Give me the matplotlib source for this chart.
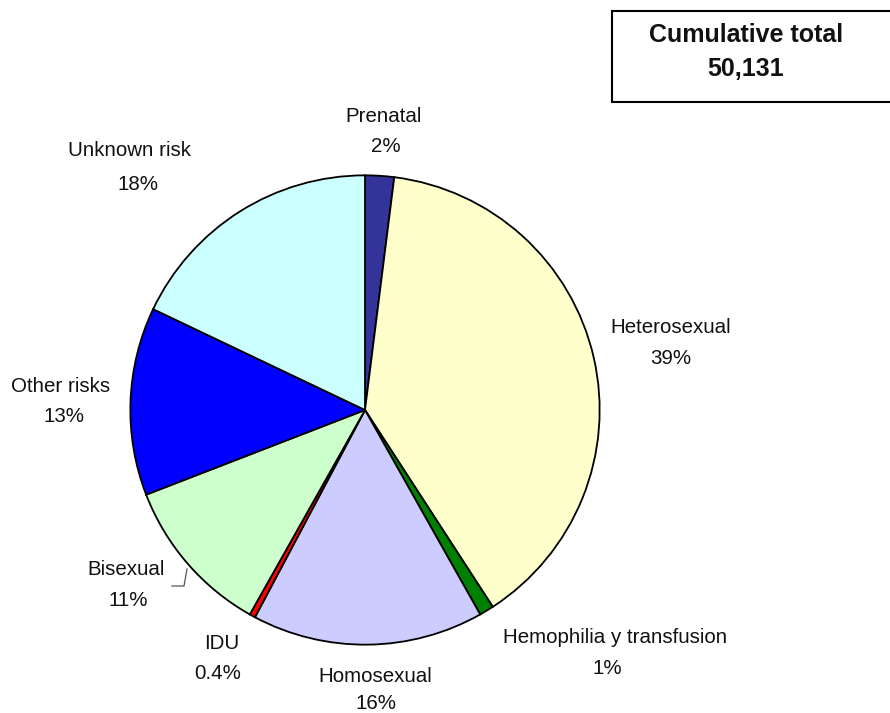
import matplotlib
matplotlib.use("Agg")
import matplotlib.pyplot as plt
from matplotlib.patches import Rectangle
from matplotlib.lines import Line2D

# ---- data ----
categories = ["Prenatal", "Heterosexual", "Hemophilia y transfusion", "Homosexual",
              "IDU", "Bisexual", "Other risks", "Unknown risk"]
values = [2, 39, 1, 16, 0.4, 11, 13, 18]
pct_labels = ["2%", "39%", "1%", "16%", "0.4%", "11%", "13%", "18%"]
colors = ["#333399", "#FFFFCC", "#008000", "#CCCCFF", "#FF0000", "#CCFFCC", "#0000FF", "#CCFFFF"]
total_title = "Cumulative total"
total_value = "50,131"

# ---- layout (pixels, origin top-left) ----
W, H = 890, 713
cx, cy, r = 365, 410, 237
name_pos = [(384, 115), (671, 326), (615, 636), (375, 675), (222, 642), (126, 568), (61, 385), (130, 149)]
pct_pos = [(386, 145), (671, 357), (607, 667), (376, 702), (218, 672), (128, 599), (64, 415), (138, 183)]

plt.rcParams['font.family'] = ['Liberation Sans', 'DejaVu Sans']

fig = plt.figure(figsize=(W / 100, H / 100), dpi=100)
fig.patch.set_facecolor("white")

ax = fig.add_axes([(cx - r) / W, (H - cy - r) / H, 2 * r / W, 2 * r / H])
ax.pie(values, colors=colors, startangle=90, counterclock=False, radius=1,
       wedgeprops=dict(edgecolor="black", linewidth=1.3))
ax.set_xlim(-1.01, 1.01)
ax.set_ylim(-1.01, 1.01)
ax.set_aspect("equal")
ax.axis("off")

def fx(x):
    return x / W

def fy(y):
    return 1 - y / H

fs = 14.8
for (x, y), t in zip(name_pos, categories):
    fig.text(fx(x), fy(y + 7), t, ha="center", va="baseline", fontsize=fs, color="#111111")
for (x, y), t in zip(pct_pos, pct_labels):
    fig.text(fx(x), fy(y + 7), t, ha="center", va="baseline", fontsize=fs, color="#111111")

# leader line for Bisexual
lx = [172, 184, 187]
ly = [586, 586, 569]
fig.add_artist(Line2D([fx(v) for v in lx], [fy(v) for v in ly], color="#555555", linewidth=0.9))

# total box
fig.add_artist(Rectangle((fx(612), fy(102)), fx(300), 91 / H, transform=fig.transFigure,
                         facecolor="white", edgecolor="black", linewidth=1.5, clip_on=False))
fig.text(fx(746), fy(33 + 8.5), total_title, ha="center", va="baseline", fontsize=18,
         fontweight="bold", color="#111111")
fig.text(fx(746), fy(68 + 8.5), total_value, ha="center", va="baseline", fontsize=18,
         fontweight="bold", color="#111111")

fig.savefig("out.png", dpi=100, facecolor="white")
